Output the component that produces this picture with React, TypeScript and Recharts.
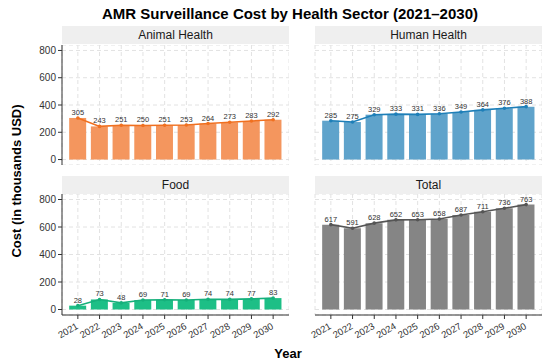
import React from "react";
import {
  Bar,
  CartesianGrid,
  ComposedChart,
  LabelList,
  Line,
  XAxis,
  YAxis,
} from "recharts";

const years = ["2021", "2022", "2023", "2024", "2025", "2026", "2027", "2028", "2029", "2030"];
const animalHealth = [305, 243, 251, 250, 251, 253, 264, 273, 283, 292];
const humanHealth = [285, 275, 329, 333, 331, 336, 349, 364, 376, 388];
const food = [28, 73, 48, 69, 71, 69, 74, 74, 77, 83];
const total = [617, 591, 628, 652, 653, 658, 687, 711, 736, 763];
const yTicks = [0, 200, 400, 600, 800];

const FONT = '"Liberation Sans", Arial, Helvetica, sans-serif';

function toRows(values: number[]) {
  return years.map((year, i) => ({ year, value: values[i] }));
}

function YearTick({ x, y, payload }: any) {
  const tx = x + 1;
  const ty = y + 7;
  return (
    <text
      x={tx}
      y={ty}
      transform={`rotate(-30 ${tx} ${ty})`}
      textAnchor="end"
      fontSize={9.5}
      fill="#333"
      fontFamily={FONT}
    >
      {payload.value}
    </text>
  );
}

type PanelProps = {
  values: number[];
  barColor: string;
  lineColor: string;
  left: number;
  top: number;
  showY: boolean;
  showX: boolean;
};

function Panel({ values, barColor, lineColor, left, top, showY, showX }: PanelProps) {
  const plotH = showX ? 121 : 120;
  const padLeft = showY ? 0 : 20;
  const width = 227 + (showY ? 62 : padLeft);
  const height = plotH + (showX ? 30 : 0);
  return (
    <div style={{ position: "absolute", left: left - padLeft, top }}>
      <ComposedChart
        width={width}
        height={height}
        data={toRows(values)}
        margin={{ top: 0, right: 0, bottom: 0, left: padLeft }}
        barCategoryGap="10%"
      >
        <CartesianGrid stroke="#E2E2E2" strokeDasharray="4 3" />
        <XAxis
          dataKey="year"
          hide={!showX}
          height={30}
          padding={{ left: 5, right: 5 }}
          tick={<YearTick />}
          tickSize={4}
          axisLine={{ stroke: "#333" }}
          tickLine={{ stroke: "#333" }}
          interval={0}
        />
        <YAxis
          hide={!showY}
          width={62}
          domain={[-40, 840]}
          ticks={yTicks}
          interval={0}
          tickSize={4}
          tick={{ fontSize: 10, fill: "#333", fontFamily: FONT }}
          axisLine={{ stroke: "#333" }}
          tickLine={{ stroke: "#333" }}
        />
        <Bar dataKey="value" fill={barColor} isAnimationActive={false} />
        <Line
          type="linear"
          dataKey="value"
          stroke={lineColor}
          strokeWidth={1.6}
          dot={{ r: 1, fill: lineColor, stroke: lineColor }}
          isAnimationActive={false}
        >
          <LabelList
            dataKey="value"
            position="top"
            offset={3}
            fontSize={7.5}
            fill="#333"
            fontFamily={FONT}
          />
        </Line>
      </ComposedChart>
    </div>
  );
}

function Strip({ label, left, top }: { label: string; left: number; top: number }) {
  return (
    <div
      style={{
        position: "absolute",
        left,
        top,
        width: 227,
        height: 18,
        background: "#EFEFEF",
        color: "#1a1a1a",
        fontSize: 12,
        lineHeight: "18px",
        textAlign: "center",
        fontFamily: FONT,
      }}
    >
      {label}
    </div>
  );
}

export default function App() {
  return (
    <div
      style={{
        position: "absolute",
        left: 0,
        top: 0,
        width: 550,
        height: 363,
        background: "#fff",
        fontFamily: FONT,
      }}
    >
      <div
        style={{
          position: "absolute",
          left: 0,
          top: 5,
          width: 580,
          textAlign: "center",
          fontSize: 15,
          fontWeight: "bold",
          color: "#000",
        }}
      >
        AMR Surveillance Cost by Health Sector (2021–2030)
      </div>

      <Strip label="Animal Health" left={62} top={26} />
      <Strip label="Human Health" left={315} top={26} />
      <Strip label="Food" left={62} top={176} />
      <Strip label="Total" left={315} top={176} />

      <Panel values={animalHealth} barColor="#F4965E" lineColor="#F07020" left={0} top={45} showY showX={false} />
      <Panel values={humanHealth} barColor="#5FA3CB" lineColor="#1E7FB8" left={315} top={45} showY={false} showX={false} />
      <Panel values={food} barColor="#1DBF86" lineColor="#16B07B" left={0} top={194} showY showX />
      <Panel values={total} barColor="#858585" lineColor="#555555" left={315} top={194} showY={false} showX />

      <div
        style={{
          position: "absolute",
          left: 16,
          top: 181,
          transform: "translate(-50%, -50%) rotate(-90deg)",
          whiteSpace: "nowrap",
          fontSize: 13,
          fontWeight: "bold",
          color: "#000",
        }}
      >
        Cost (in thousands USD)
      </div>
      <div
        style={{
          position: "absolute",
          left: 288,
          top: 353,
          transform: "translate(-50%, -50%)",
          fontSize: 13,
          fontWeight: "bold",
          color: "#000",
        }}
      >
        Year
      </div>
    </div>
  );
}
